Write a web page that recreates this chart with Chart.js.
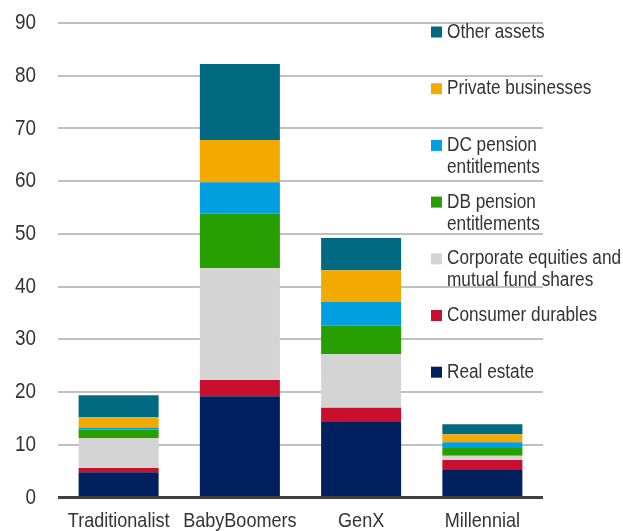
<!DOCTYPE html>
<html>
<head>
<meta charset="utf-8">
<script src="https://cdn.jsdelivr.net/npm/chart.js@4.4.0/dist/chart.umd.min.js"></script>
<style>
  html, body { margin: 0; padding: 0; background: #fff; }
  #wrap { position: relative; width: 623px; height: 531px; }
</style>
</head>
<body>
<div id="wrap"><canvas id="c"></canvas></div>
<script>
const categories = ['Traditionalist', 'BabyBoomers', 'GenX', 'Millennial'];
const realEstate        = [4.8, 19.2, 14.3, 5.2];
const consumerDurables  = [0.8, 3.1, 2.7, 1.9];
const corporateEquities = [5.7, 21.2, 10.2, 0.8];
const dbPension         = [1.6, 10.3, 5.4, 1.5];
const dcPension         = [0.4, 6.0, 4.5, 1.1];
const privateBusinesses = [1.9, 8.0, 6.0, 1.5];
const otherAssets       = [4.2, 14.4, 6.1, 1.9];
const yMin = 0, yMax = 90, yStep = 10;

const FONT = "'Liberation Sans', Arial, sans-serif";
const TEXT = '#333333';
const SQUEEZE = 0.86; // reference uses a condensed face

const series = [
  { label: ['Real estate'], data: realEstate, color: '#002060' },
  { label: ['Consumer durables'], data: consumerDurables, color: '#C8102E' },
  { label: ['Corporate equities and', 'mutual fund shares'], data: corporateEquities, color: '#D4D4D4' },
  { label: ['DB pension', 'entitlements'], data: dbPension, color: '#279F00' },
  { label: ['DC pension', 'entitlements'], data: dcPension, color: '#009FDF' },
  { label: ['Private businesses'], data: privateBusinesses, color: '#F2AA00' },
  { label: ['Other assets'], data: otherAssets, color: '#006B80' },
];

function narrowText(ctx, text, x, y, align, size) {
  ctx.save();
  ctx.translate(x, y);
  ctx.scale(SQUEEZE, 1);
  ctx.font = size + 'px ' + FONT;
  ctx.textAlign = align;
  ctx.textBaseline = 'middle';
  ctx.fillStyle = TEXT;
  ctx.fillText(text, 0, 0);
  ctx.restore();
}

// axis labels + legend drawn by hand so the text can be condensed
const textLayer = {
  id: 'textLayer',
  afterDraw(chart) {
    const ctx = chart.ctx;
    const xs = chart.scales.x, ys = chart.scales.y;
    ys.ticks.forEach((t, i) => {
      narrowText(ctx, String(t.value), 36, ys.getPixelForTick(i), 'right', 22);
    });
    xs.ticks.forEach((t, i) => {
      narrowText(ctx, categories[i], xs.getPixelForTick(i), 521, 'center', 21);
    });
    const items = series.slice().reverse();
    items.forEach((s, i) => {
      const cy = 32 + i * 56.7;
      ctx.fillStyle = s.color;
      ctx.fillRect(431, cy - 5.5, 11, 11);
      s.label.forEach((line, j) => narrowText(ctx, line, 447, cy + j * 22, 'left', 20));
    });
  }
};

new Chart(document.getElementById('c'), {
  type: 'bar',
  data: {
    labels: categories,
    datasets: series.map(s => ({
      label: s.label.join(' '),
      data: s.data,
      backgroundColor: s.color,
      borderWidth: 0,
      barPercentage: 0.66,
      categoryPercentage: 1.0,
    }))
  },
  options: {
    responsive: true,
    maintainAspectRatio: false,
    animation: false,
    layout: { padding: { top: 23, right: 80, left: 0, bottom: 0 } },
    plugins: { legend: { display: false }, tooltip: { enabled: false } },
    scales: {
      x: {
        stacked: true,
        grid: { display: false },
        border: { display: false },
        ticks: { display: false },
        afterFit: (axis) => { axis.height = 33.5; }
      },
      y: {
        stacked: true,
        min: yMin, max: yMax,
        border: { display: false },
        grid: {
          drawTicks: false,
          color: (c) => c.tick && c.tick.value === 0 ? '#404040' : '#C0C0C0',
          lineWidth: (c) => c.tick && c.tick.value === 0 ? 3 : 2,
        },
        ticks: { display: false, stepSize: yStep },
        afterFit: (axis) => { axis.width = 58; }
      }
    }
  },
  plugins: [textLayer]
});
</script>
</body>
</html>
